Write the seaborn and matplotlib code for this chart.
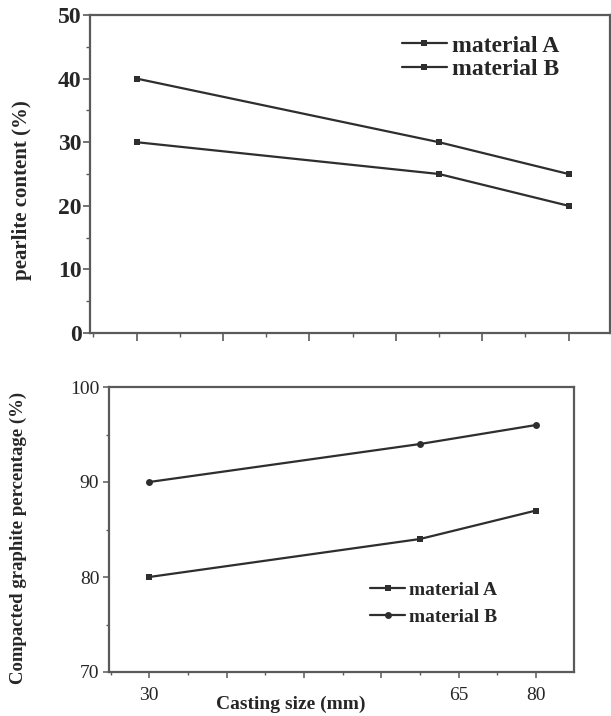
import matplotlib
matplotlib.use('Agg')
import matplotlib.pyplot as plt
import seaborn as sns
import pandas as pd
from matplotlib.ticker import MultipleLocator, FixedLocator, NullFormatter

# ---- data ----
sizes = [30, 65, 80]
pearlite_A = [40, 30, 25]
pearlite_B = [30, 25, 20]
graphite_A = [80, 84, 87]
graphite_B = [90, 94, 96]
series_names = ['material A', 'material B']
top_yticks = [0, 10, 20, 30, 40, 50]
bottom_yticks = [70, 80, 90, 100]
bottom_xtick_pos = [30, 40, 50, 60, 70, 80]
bottom_xtick_labels = ['30', '', '', '', '65', '80']

sns.set_theme(style='ticks')
plt.rcParams['font.family'] = ['Liberation Serif', 'DejaVu Serif']

W, H = 611, 716
fig = plt.figure(figsize=(W / 100, H / 100), dpi=100)
ax1 = fig.add_axes([90 / W, 1 - 333 / H, (610 - 90) / W, (333 - 15) / H])
ax2 = fig.add_axes([109 / W, 1 - 672 / H, (574 - 109) / W, (672 - 387) / H])

line_col = '#2e2e2e'
spine_col = '#5a5a5a'

df1 = pd.DataFrame({
    'size': sizes * 2,
    'value': pearlite_A + pearlite_B,
    'material': [series_names[0]] * len(sizes) + [series_names[1]] * len(sizes),
})
df2 = pd.DataFrame({
    'size': sizes * 2,
    'value': graphite_A + graphite_B,
    'material': [series_names[0]] * len(sizes) + [series_names[1]] * len(sizes),
})

pal = {series_names[0]: line_col, series_names[1]: line_col}
sns.lineplot(data=df1, x='size', y='value', hue='material', style='material',
             markers={series_names[0]: 's', series_names[1]: 's'}, dashes=False,
             palette=pal, linewidth=1.6, markersize=5, markeredgewidth=0,
             ax=ax1)
sns.lineplot(data=df2, x='size', y='value', hue='material', style='material',
             markers={series_names[0]: 's', series_names[1]: 'o'}, dashes=False,
             palette=pal, linewidth=1.6, markersize=5, markeredgewidth=0,
             ax=ax2)

# ---- top axes ----
ax1.set_xlim(24.6, 84.8)
ax1.set_ylim(0, 50)
ax1.xaxis.set_major_locator(MultipleLocator(10))
ax1.xaxis.set_minor_locator(MultipleLocator(5))
ax1.xaxis.set_major_formatter(NullFormatter())
ax1.set_yticks(top_yticks)
ax1.yaxis.set_minor_locator(MultipleLocator(5))
ax1.tick_params(axis='y', which='major', labelsize=17, length=5, width=1.2,
                color=spine_col, pad=1)
ax1.tick_params(axis='both', which='minor', length=3, width=1.0, color=spine_col)
ax1.tick_params(axis='x', which='major', length=6, width=1.2, color=spine_col)
for lab in ax1.get_yticklabels():
    lab.set_fontweight('bold')
ax1.set_xlabel('')
ax1.set_ylabel('pearlite content (%)', fontsize=15, fontweight='bold')
ax1.yaxis.set_label_coords(-0.111, 0.45)

# ---- bottom axes ----
ax2.set_xlim(24.8, 84.9)
ax2.set_ylim(70, 100)
ax2.xaxis.set_major_locator(FixedLocator(bottom_xtick_pos))
ax2.set_xticklabels(bottom_xtick_labels)
ax2.xaxis.set_minor_locator(MultipleLocator(5))
ax2.set_yticks(bottom_yticks)
ax2.yaxis.set_minor_locator(MultipleLocator(5))
ax2.tick_params(axis='both', which='major', labelsize=14, length=4, width=1.1,
                color=spine_col, pad=3)
ax2.tick_params(axis='x', which='major', pad=7)
ax2.tick_params(axis='both', which='minor', length=2.5, width=1.0, color=spine_col)
ax2.set_xlabel('Casting size (mm)', fontsize=14, fontweight='bold')
ax2.xaxis.set_label_coords(0.391, -0.082)
ax2.set_ylabel('Compacted graphite percentage (%)', fontsize=13.5, fontweight='bold')
ax2.yaxis.set_label_coords(-0.176, 0.47)

for ax in (ax1, ax2):
    for sp in ax.spines.values():
        sp.set_color(spine_col)
        sp.set_linewidth(1.6)
    ax.set_facecolor('white')

# ---- legends ----
h1, l1 = ax1.get_legend_handles_labels()
ax1.legend(h1, l1, loc='upper left', bbox_to_anchor=(402 / W, 1 - 35 / H),
           bbox_transform=fig.transFigure, frameon=False, borderpad=0,
           borderaxespad=0, handlelength=1.9, handletextpad=0.2,
           labelspacing=0.1, prop={'size': 17, 'weight': 'bold',
                                    'family': 'Liberation Serif'})
h2, l2 = ax2.get_legend_handles_labels()
ax2.legend(h2, l2, loc='upper left', bbox_to_anchor=(370 / W, 1 - 581 / H),
           bbox_transform=fig.transFigure, frameon=False, borderpad=0,
           borderaxespad=0, handlelength=1.8, handletextpad=0.2,
           labelspacing=0.5, prop={'size': 14, 'weight': 'bold',
                                    'family': 'Liberation Serif'})

fig.savefig('out.png', dpi=100, facecolor='white')
